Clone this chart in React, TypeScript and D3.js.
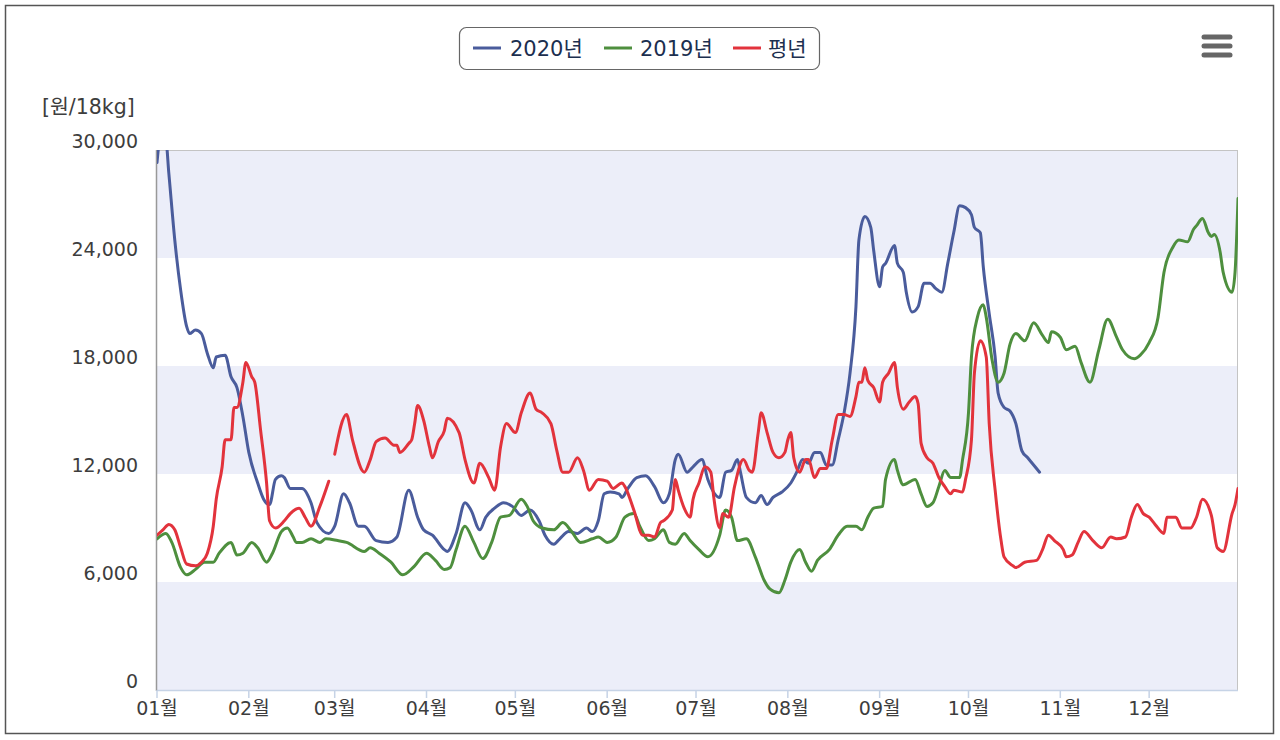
import { useMemo } from "react";
import * as d3 from "d3";

// ---- data (day offset from 2020-01-01, price in 원/18kg) ----
const seriesNames = ["2020년", "2019년", "평년"];
const seriesColors = ["#4a5c9c", "#4e8f3e", "#e2333c"];

const days2020 = [0, 1, 3, 4, 6, 8, 10, 11, 13, 15, 17, 19, 20, 23, 25, 27, 29, 31, 34, 36, 38, 40, 42, 43, 45, 49, 52, 54, 58, 60, 63, 65, 68, 70, 74, 78, 81, 85, 88, 90, 93, 97, 98, 101, 104, 106, 109, 111, 114, 117, 120, 123, 126, 129, 131, 134, 136, 139, 142, 145, 147, 149, 151, 153, 156, 157, 159, 162, 165, 168, 171, 173, 175, 176, 179, 181, 184, 186, 190, 192, 194, 196, 197, 199, 202, 204, 206, 208, 211, 214, 216, 218, 220, 222, 224, 226, 228, 230, 232, 234, 236, 237, 239, 241, 242, 244, 245, 246, 249, 250, 252, 253, 255, 257, 259, 261, 263, 265, 267, 269, 271, 273, 275, 276, 278, 279, 281, 283, 284, 286, 288, 290, 292, 294, 296, 298];
const price2020 = [29300, 30500, 30500, 28700, 25000, 22200, 20200, 19800, 20000, 19800, 18700, 17900, 18500, 18600, 17400, 16800, 15200, 13200, 11500, 10600, 10300, 11700, 11900, 11800, 11200, 11200, 10400, 9300, 8700, 9100, 10900, 10400, 9100, 9100, 8300, 8200, 8500, 11100, 9600, 8900, 8600, 7800, 7700, 8700, 10400, 10000, 8900, 9600, 10100, 10400, 10200, 9700, 10000, 9400, 8600, 8100, 8400, 8800, 8700, 9000, 8800, 9400, 10900, 11000, 10900, 10700, 11200, 11800, 11900, 11300, 10400, 10900, 12800, 13100, 12100, 12400, 12800, 11700, 10700, 12100, 12200, 12800, 12100, 10700, 10400, 10800, 10300, 10700, 11000, 11500, 12100, 12800, 12600, 13200, 13200, 12500, 12500, 13900, 15400, 17600, 21300, 25000, 26300, 25700, 24400, 22400, 23500, 23700, 24700, 23700, 23200, 22100, 21000, 21300, 22600, 22600, 22300, 22100, 23700, 25400, 26900, 26800, 26400, 25700, 25400, 23500, 20900, 18500, 16500, 15700, 15500, 14800, 13300, 12900, 12500, 12100];

const days2019 = [0, 3, 5, 8, 10, 13, 16, 19, 21, 25, 27, 29, 32, 34, 37, 39, 42, 44, 46, 47, 49, 52, 55, 57, 61, 64, 70, 72, 75, 79, 83, 87, 91, 94, 97, 99, 101, 104, 107, 110, 113, 116, 119, 123, 125, 127, 130, 134, 137, 140, 143, 147, 149, 152, 155, 158, 161, 163, 166, 168, 171, 173, 175, 178, 180, 183, 186, 190, 192, 194, 196, 199, 202, 205, 207, 210, 212, 214, 217, 219, 221, 223, 227, 230, 233, 236, 238, 240, 242, 245, 246, 249, 250, 252, 256, 258, 260, 262, 264, 266, 268, 271, 272, 274, 275, 277, 279, 280, 282, 284, 286, 288, 290, 293, 296, 299, 301, 302, 305, 307, 310, 312, 315, 318, 321, 324, 326, 330, 332, 335, 338, 340, 343, 345, 348, 350, 351, 353, 355, 356, 357, 359, 360, 363, 364, 365];
const price2019 = [8400, 8700, 8200, 6800, 6400, 6700, 7100, 7100, 7600, 8200, 7500, 7600, 8200, 7900, 7100, 7600, 8800, 9000, 8500, 8200, 8200, 8400, 8200, 8400, 8300, 8200, 7700, 7900, 7600, 7100, 6400, 6900, 7600, 7200, 6700, 6800, 7800, 9100, 8200, 7300, 8200, 9600, 9700, 10600, 10200, 9400, 9000, 8900, 9300, 8800, 8200, 8400, 8500, 8200, 8500, 9600, 9800, 9100, 8300, 8400, 8900, 8200, 8100, 8700, 8300, 7800, 7400, 8600, 10000, 9600, 8300, 8400, 7400, 6100, 5600, 5400, 6100, 7100, 7800, 7100, 6600, 7200, 7800, 8600, 9100, 9100, 8900, 9600, 10100, 10200, 11700, 12800, 12200, 11400, 11700, 10900, 10200, 10400, 11300, 12200, 11800, 11800, 12800, 15400, 18500, 20700, 21400, 20700, 18300, 17100, 17600, 19200, 19800, 19400, 20400, 19700, 19300, 19900, 19600, 18900, 19100, 18200, 17100, 18900, 20600, 19600, 18900, 18400, 18600, 19300, 20700, 23200, 24600, 25000, 24900, 25600, 25800, 26200, 25400, 25200, 25300, 24300, 23200, 22100, 23200, 27300];

const daysNormal = [0, 2, 4, 6, 8, 10, 13, 15, 17, 19, 20, 22, 23, 25, 26, 27, 29, 30, 32, 33, 35, 37, 38, 40, 43, 45, 48, 50, 52, 55, 58, 59, 60, 64, 66, 70, 72, 74, 77, 80, 81, 82, 85, 86, 87, 88, 90, 92, 93, 95, 97, 98, 102, 104, 107, 109, 112, 114, 116, 118, 121, 123, 126, 128, 130, 133, 135, 137, 139, 142, 144, 146, 149, 152, 154, 157, 158, 161, 164, 166, 168, 170, 171, 174, 175, 176, 178, 180, 181, 183, 185, 187, 188, 190, 191, 193, 195, 198, 200, 201, 203, 204, 206, 208, 210, 212, 213, 214, 215, 217, 219, 220, 222, 224, 226, 228, 230, 232, 234, 236, 237, 238, 239, 240, 242, 244, 245, 247, 249, 250, 252, 254, 256, 257, 258, 260, 262, 264, 266, 268, 269, 272, 273, 275, 276, 278, 280, 281, 283, 285, 286, 289, 290, 293, 297, 299, 301, 303, 306, 307, 309, 311, 313, 316, 319, 322, 324, 327, 329, 331, 333, 335, 337, 340, 341, 344, 346, 349, 351, 353, 356, 358, 360, 363, 364, 365];
const priceNormal = [8600, 8900, 9200, 8900, 7900, 7000, 6900, 7100, 7600, 9100, 10600, 12400, 13900, 13900, 15700, 15700, 17100, 18200, 17400, 17100, 14400, 11500, 9400, 9000, 9400, 9800, 10100, 9600, 9100, 10200, 11600, null, 13100, 15300, 13900, 12100, 12800, 13800, 14000, 13600, 13600, 13200, 13700, 13900, 14800, 15800, 15000, 13500, 12900, 13800, 14400, 15100, 14300, 12800, 11500, 12600, 11800, 11100, 13500, 14800, 14300, 15400, 16500, 15600, 15400, 14800, 13300, 12100, 12100, 12900, 12200, 11100, 11700, 11600, 11200, 11500, 11300, 10000, 8600, 8600, 8500, 9300, 9400, 10000, 11700, 11100, 10100, 9600, 10600, 11500, 12400, 12100, 10700, 9000, 9800, 9600, 11300, 12800, 12200, 12100, 14300, 15400, 14300, 13200, 12900, 13200, 13900, 14300, 12900, 12100, 12800, 12800, 11800, 12300, 12300, 13900, 15300, 15300, 15200, 16300, 17100, 17100, 17900, 17200, 16800, 16000, 17100, 17600, 18200, 16800, 15600, 16000, 16300, 15900, 13700, 12900, 12600, 11800, 11300, 10900, 11100, 11000, 11700, 13900, 17600, 19400, 18500, 14800, 11100, 8300, 7400, 6900, 6800, 7100, 7200, 7800, 8600, 8300, 7800, 7400, 7500, 8200, 8800, 8300, 7900, 8500, 8400, 8500, 9600, 10300, 9800, 9600, 9200, 8700, 9600, 9600, 9000, 9000, 9600, 10600, 9700, 7900, 7700, 9800, 10300, 11200];

const yTicks = [0, 6000, 12000, 18000, 24000, 30000];
const yTitle = "[원/18kg]";

const seriesDays = [days2020, days2019, daysNormal];
const seriesPrices = [price2020, price2019, priceNormal];

const FONT = '"DejaVu Sans", "Noto Sans CJK KR", sans-serif';

export default function App() {
  const W = 1280;
  const H = 740;
  const plot = { left: 157, top: 150, right: 1238, bottom: 690 };
  const start = new Date(2020, 0, 1);
  const end = new Date(2020, 11, 31);

  const x = d3.scaleTime().domain([start, end]).range([plot.left, plot.right]);
  const y = d3.scaleLinear().domain([0, 30000]).range([plot.bottom, plot.top]);

  const months = d3.timeMonth.range(start, end);
  const fmtMonth = d3.timeFormat("%m월");
  const fmtNum = d3.format(",");

  const paths = useMemo(() => {
    const line = d3
      .line<[Date, number | null]>()
      .defined((d) => d[1] != null)
      .x((d) => x(d[0]))
      .y((d) => y(d[1] as number))
      .curve(d3.curveMonotoneX);
    return seriesDays.map((ds, i) =>
      line(ds.map((d, j) => [d3.timeDay.offset(start, d), seriesPrices[i][j]]))
    );
  }, []);

  // alternating bands between ticks
  const bands = yTicks.slice(0, -1).filter((_, i) => i % 2 === 0);

  // legend layout
  const legendItems = [
    { lx: 473, tx: 510 },
    { lx: 604, tx: 640 },
    { lx: 733, tx: 768 },
  ];

  return (
    <div style={{ position: "fixed", left: 0, top: 0 }}>
      <svg width={W} height={H} style={{ display: "block", background: "#fff" }}>
        <defs>
          <clipPath id="plotClip">
            <rect x={plot.left} y={plot.top} width={plot.right - plot.left} height={plot.bottom - plot.top} />
          </clipPath>
        </defs>
        <rect x={5.5} y={5.5} width={1268} height={728} fill="#fff" stroke="#555" strokeWidth={1.5} />

        {/* bands */}
        {bands.map((t, i) => (
          <rect
            key={i}
            x={plot.left}
            y={y(t + 6000)}
            width={plot.right - plot.left}
            height={y(t) - y(t + 6000)}
            fill="#eceef9"
          />
        ))}

        {/* plot border */}
        <line x1={plot.left} x2={plot.right} y1={plot.top + 0.5} y2={plot.top + 0.5} stroke="#c4c4c4" />
        <line x1={plot.right - 0.5} x2={plot.right - 0.5} y1={plot.top} y2={plot.bottom} stroke="#c4c4c4" />
        <line x1={plot.left} x2={plot.right} y1={plot.bottom + 0.5} y2={plot.bottom + 0.5} stroke="#c6d3e6" strokeWidth={1.5} />
        <line x1={plot.left - 0.5} x2={plot.left - 0.5} y1={plot.top} y2={plot.bottom + 1} stroke="#999" strokeWidth={1.5} />

        {/* x ticks */}
        {months.map((m, i) => (
          <g key={i}>
            <line x1={x(m)} x2={x(m)} y1={plot.bottom} y2={plot.bottom + 8} stroke="#c6d3e6" strokeWidth={1.5} />
            <text
              x={x(m)}
              y={plot.bottom + 25}
              textAnchor="middle"
              fontFamily={FONT}
              fontSize={19}
              fill="#3d3d3d"
            >
              {fmtMonth(m)}
            </text>
          </g>
        ))}

        {/* y ticks */}
        {yTicks.map((t) => (
          <text
            key={t}
            x={138}
            y={y(t) - 2}
            textAnchor="end"
            fontFamily={FONT}
            fontSize={19}
            fill="#3d3d3d"
          >
            {fmtNum(t)}
          </text>
        ))}
        <text x={42} y={114} fontFamily={FONT} fontSize={20.5} fill="#3d3d3d">
          {yTitle}
        </text>

        {/* lines */}
        <g clipPath="url(#plotClip)">
          {paths.map((p, i) => (
            <path key={i} d={p || ""} fill="none" stroke={seriesColors[i]} strokeWidth={3} strokeLinejoin="round" strokeLinecap="round" />
          ))}
        </g>

        {/* legend */}
        <rect x={459.5} y={27.5} width={360} height={42} rx={7} fill="#fff" stroke="#666" strokeWidth={1.2} />
        {seriesNames.map((n, i) => (
          <g key={n}>
            <line x1={legendItems[i].lx} x2={legendItems[i].lx + 28} y1={48} y2={48} stroke={seriesColors[i]} strokeWidth={3} />
            <text x={legendItems[i].tx} y={56} fontFamily={FONT} fontSize={21} fill="#1c2f4f">
              {n}
            </text>
          </g>
        ))}

        {/* menu icon */}
        {[37, 46, 55].map((yy) => (
          <line key={yy} x1={1204} x2={1230} y1={yy} y2={yy} stroke="#666" strokeWidth={5} strokeLinecap="round" />
        ))}
      </svg>
    </div>
  );
}
